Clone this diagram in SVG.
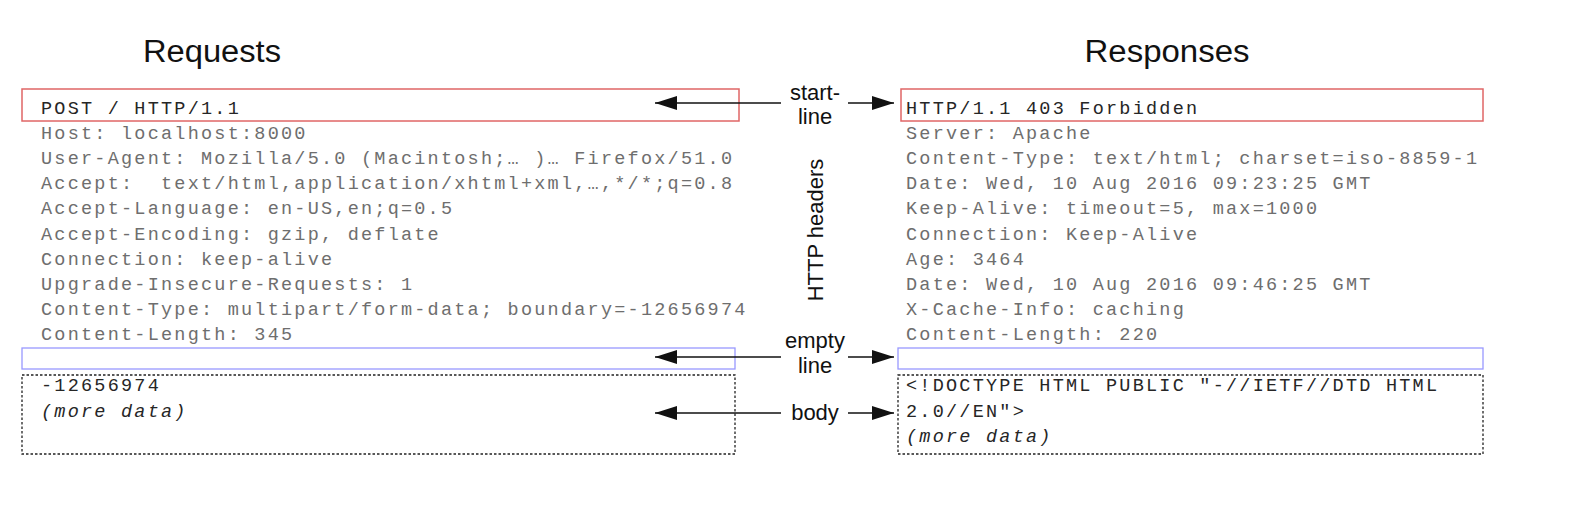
<svg xmlns="http://www.w3.org/2000/svg" width="1572" height="524" viewBox="0 0 1572 524">
<style>
.title{font-family:"Liberation Sans",Arial,sans-serif;font-size:31px;fill:#111;text-anchor:middle}
.lbl{font-family:"Liberation Sans",Arial,sans-serif;font-size:22px;fill:#111;text-anchor:middle}
.mono{font-family:"Liberation Mono","Courier New",monospace;font-size:18.5px;letter-spacing:2.23px;fill:#6e6e6e}
.dark{fill:#262626}
.it{font-style:italic}
.red{fill:none;stroke:#e06666;stroke-width:1.5}
.blue{fill:none;stroke:#9999ff;stroke-width:1.3}
.dot{fill:none;stroke:#222;stroke-width:1.3;stroke-dasharray:2.5,2}
.conn{stroke:#111;stroke-width:1.5;fill:none;marker-end:url(#ah)}
</style>
<defs>
<marker id="ah" viewBox="0 0 22 14" refX="22" refY="7" markerWidth="22" markerHeight="14" markerUnits="userSpaceOnUse" orient="auto">
<path d="M0,0 L22,7 L0,14 Z" fill="#111"/>
</marker>
</defs>
<rect width="1572" height="524" fill="#fff"/>

<g id="titles">
<text class="title" x="212" y="61.5" textLength="138" lengthAdjust="spacingAndGlyphs">Requests</text>
<text class="title" x="1167" y="61.5" textLength="165" lengthAdjust="spacingAndGlyphs">Responses</text>
</g>

<g id="req-start">
<rect class="red" x="22" y="89" width="717" height="32"/>
<text class="mono dark" x="41" y="113.5">POST / HTTP/1.1</text>
</g>
<g id="req-headers">
<text class="mono" x="41" y="138.7">Host: localhost:8000</text>
<text class="mono" x="41" y="163.9">User-Agent: Mozilla/5.0 (Macintosh;… )… Firefox/51.0</text>
<text class="mono" x="41" y="189.1" xml:space="preserve">Accept:  text/html,application/xhtml+xml,…,*/*;q=0.8</text>
<text class="mono" x="41" y="214.3">Accept-Language: en-US,en;q=0.5</text>
<text class="mono" x="41" y="239.5">Accept-Encoding: gzip, deflate</text>
<text class="mono" x="41" y="264.7">Connection: keep-alive</text>
<text class="mono" x="41" y="289.9">Upgrade-Insecure-Requests: 1</text>
<text class="mono" x="41" y="315.1">Content-Type: multipart/form-data; boundary=-12656974</text>
<text class="mono" x="41" y="340.3">Content-Length: 345</text>
</g>
<g id="req-empty">
<rect class="blue" x="22" y="348" width="713" height="21"/>
</g>
<g id="req-body">
<rect class="dot" x="22" y="375" width="713" height="79"/>
<text class="mono dark" x="41" y="391">-12656974</text>
<text class="mono dark it" x="41" y="416.5">(more data)</text>
</g>

<g id="res-start">
<rect class="red" x="901" y="89" width="582" height="32"/>
<text class="mono dark" x="906" y="113.5">HTTP/1.1 403 Forbidden</text>
</g>
<g id="res-headers">
<text class="mono" x="906" y="138.7">Server: Apache</text>
<text class="mono" x="906" y="163.9">Content-Type: text/html; charset=iso-8859-1</text>
<text class="mono" x="906" y="189.1">Date: Wed, 10 Aug 2016 09:23:25 GMT</text>
<text class="mono" x="906" y="214.3">Keep-Alive: timeout=5, max=1000</text>
<text class="mono" x="906" y="239.5">Connection: Keep-Alive</text>
<text class="mono" x="906" y="264.7">Age: 3464</text>
<text class="mono" x="906" y="289.9">Date: Wed, 10 Aug 2016 09:46:25 GMT</text>
<text class="mono" x="906" y="315.1">X-Cache-Info: caching</text>
<text class="mono" x="906" y="340.3">Content-Length: 220</text>
</g>
<g id="res-empty">
<rect class="blue" x="898" y="348" width="585" height="21"/>
</g>
<g id="res-body">
<rect class="dot" x="898" y="375" width="585" height="79"/>
<text class="mono dark" x="906" y="391">&lt;!DOCTYPE HTML PUBLIC "-//IETF//DTD HTML</text>
<text class="mono dark" x="906" y="416.5">2.0//EN"&gt;</text>
<text class="mono dark it" x="906" y="441.5">(more data)</text>
</g>

<g id="labels">
<text class="lbl" x="815" y="100">start-</text>
<text class="lbl" x="815" y="124">line</text>
<text class="lbl" transform="translate(823,230) rotate(-90)" x="0" y="0">HTTP headers</text>
<text class="lbl" x="815" y="348">empty</text>
<text class="lbl" x="815" y="373">line</text>
<text class="lbl" x="815" y="420">body</text>
</g>

<g id="connectors">
<line class="conn" x1="781" y1="103" x2="655" y2="103"/>
<line class="conn" x1="848" y1="103" x2="894" y2="103"/>
<line class="conn" x1="781" y1="357" x2="655" y2="357"/>
<line class="conn" x1="848" y1="357" x2="894" y2="357"/>
<line class="conn" x1="781" y1="413" x2="655" y2="413"/>
<line class="conn" x1="848" y1="413" x2="894" y2="413"/>
</g>
</svg>
